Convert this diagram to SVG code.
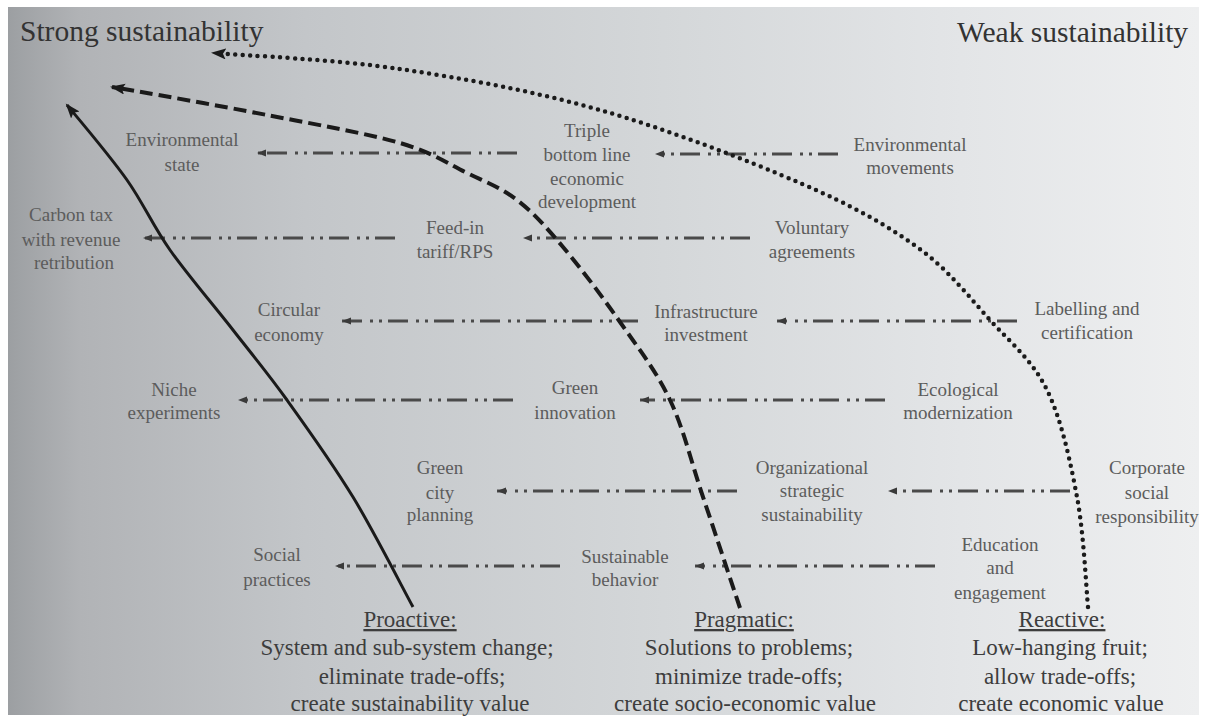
<svg xmlns="http://www.w3.org/2000/svg" width="1207" height="724" viewBox="0 0 1207 724">
<defs>
<linearGradient id="bg" x1="0" y1="0" x2="1" y2="0">
<stop offset="0" stop-color="#9c9fa2"/>
<stop offset="0.06" stop-color="#b1b3b6"/>
<stop offset="0.25" stop-color="#c3c6c9"/>
<stop offset="0.55" stop-color="#d4d7d9"/>
<stop offset="0.8" stop-color="#e3e5e7"/>
<stop offset="1" stop-color="#eeeff0"/>
</linearGradient>
<marker id="bigHead" markerUnits="userSpaceOnUse" markerWidth="16" markerHeight="12" refX="13" refY="5.5" orient="auto">
<path d="M0,0 L15,5.5 L0,11 L3,5.5 z" fill="#1a1a1a"/>
</marker>
<marker id="smallHead" markerUnits="userSpaceOnUse" markerWidth="10" markerHeight="8" refX="9" refY="3.5" orient="auto">
<path d="M0,0 L9,3.5 L0,7 z" fill="#3a3a3a"/>
</marker>
</defs>
<style>
text{font-family:"Liberation Serif","DejaVu Serif",serif;text-anchor:middle}
.title{font-size:29.5px;fill:#333;text-anchor:start}
.node text{font-size:19px;fill:#5c5c5c}
.lbl text{font-size:23px;fill:#3d3d3d}
.u{text-decoration:underline}
.row{fill:none;stroke:#4a4a4a;stroke-width:3;stroke-dasharray:20 6 3 6 3 8;marker-end:url(#smallHead)}
.solid{fill:none;stroke:#1a1a1a;stroke-width:3;marker-end:url(#bigHead)}
.dashed{fill:none;stroke:#1a1a1a;stroke-width:4;stroke-dasharray:13 6;marker-end:url(#bigHead)}
.dotted{fill:none;stroke:#1a1a1a;stroke-width:4.5;stroke-linecap:round;stroke-dasharray:0 7.5;marker-end:url(#bigHead)}
</style>
<rect width="1207" height="724" fill="#ffffff"/>
<rect x="8" y="7" width="1191" height="708" fill="url(#bg)"/>

<g id="titles">
<text class="title" x="20" y="41">Strong sustainability</text>
<text class="title" x="957" y="42">Weak sustainability</text>
</g>

<g id="connectors">
<path class="row" d="M517,153 L257,153"/>
<path class="row" d="M838,154 L655,154"/>
<path class="row" d="M395,238 L143,238"/>
<path class="row" d="M750,238 L523,238"/>
<path class="row" d="M638,321 L342,321"/>
<path class="row" d="M1017,321 L777,321"/>
<path class="row" d="M513,400 L238,400"/>
<path class="row" d="M885,400 L640,400"/>
<path class="row" d="M737,491 L497,491"/>
<path class="row" d="M1070,491 L888,491"/>
<path class="row" d="M560,566 L335,566"/>
<path class="row" d="M935,566 L695,566"/>
<path id="proactive-curve" class="solid" d="M413,607 C403,588.7 374,531.5 353,497 C332,462.5 307,427.8 287,400 C267,372.2 252.5,355 233,330 C213.5,305 187.7,275 170,250 C152.3,225 143.7,203.7 127,180 C110.3,156.3 79.5,120 67,105"/>
<path id="pragmatic-curve" class="dashed" d="M740,608 C733.8,589.5 714.7,531.7 703,497 C691.3,462.3 683.8,429.2 670,400 C656.2,370.8 637.8,347.5 620,322 C602.2,296.5 580.2,267.3 563,247 C545.8,226.7 533,212.3 517,200 C501,187.7 486.5,182.5 467,173 C447.5,163.5 433.3,152.7 400,143 C366.7,133.3 314.5,124.3 267,115 C219.5,105.7 140.3,91.7 112,87"/>
<path id="reactive-curve" class="dotted" d="M1088,607 C1086.2,588.7 1083.8,533.2 1077,497 C1070.2,460.8 1061.5,419.5 1047,390 C1032.5,360.5 1011.7,343.8 990,320 C968.3,296.2 948.7,269.8 917,247 C885.3,224.2 852.8,205.8 800,183 C747.2,160.2 666.7,129 600,110 C533.3,91 463.7,78.5 400,69 C336.3,59.5 248.3,55.7 213,53"/>
</g>

<g id="environmental-state" class="node"><text x="182" y="146">Environmental</text><text x="182" y="171">state</text></g>
<g id="triple-bottom-line" class="node"><text x="587" y="137">Triple</text><text x="587" y="161">bottom line</text><text x="587" y="185">economic</text><text x="587" y="208">development</text></g>
<g id="environmental-movements" class="node"><text x="910" y="151">Environmental</text><text x="910" y="174">movements</text></g>
<g id="carbon-tax" class="node"><text x="71" y="221">Carbon tax</text><text x="71" y="246">with revenue</text><text x="74" y="269">retribution</text></g>
<g id="feed-in-tariff" class="node"><text x="455" y="234">Feed-in</text><text x="455" y="258">tariff/RPS</text></g>
<g id="voluntary-agreements" class="node"><text x="812" y="234">Voluntary</text><text x="812" y="258">agreements</text></g>
<g id="circular-economy" class="node"><text x="289" y="316">Circular</text><text x="289" y="341">economy</text></g>
<g id="infrastructure-investment" class="node"><text x="706" y="318">Infrastructure</text><text x="706" y="341">investment</text></g>
<g id="labelling-certification" class="node"><text x="1087" y="315">Labelling and</text><text x="1087" y="339">certification</text></g>
<g id="niche-experiments" class="node"><text x="174" y="396">Niche</text><text x="174" y="419">experiments</text></g>
<g id="green-innovation" class="node"><text x="575" y="394">Green</text><text x="575" y="419">innovation</text></g>
<g id="ecological-modernization" class="node"><text x="958" y="396">Ecological</text><text x="958" y="419">modernization</text></g>
<g id="green-city-planning" class="node"><text x="440" y="474">Green</text><text x="440" y="499">city</text><text x="440" y="521">planning</text></g>
<g id="organizational-sustainability" class="node"><text x="812" y="474">Organizational</text><text x="812" y="497">strategic</text><text x="812" y="521">sustainability</text></g>
<g id="corporate-social-responsibility" class="node"><text x="1147" y="474">Corporate</text><text x="1147" y="499">social</text><text x="1147" y="523">responsibility</text></g>
<g id="social-practices" class="node"><text x="277" y="561">Social</text><text x="277" y="586">practices</text></g>
<g id="sustainable-behavior" class="node"><text x="625" y="563">Sustainable</text><text x="625" y="586">behavior</text></g>
<g id="education-engagement" class="node"><text x="1000" y="551">Education</text><text x="1000" y="574">and</text><text x="1000" y="599">engagement</text></g>

<g id="proactive" class="lbl"><text class="u" x="410" y="627">Proactive:</text><text x="407" y="655">System and sub-system change;</text><text x="412" y="684">eliminate trade-offs;</text><text x="410" y="711">create sustainability value</text></g>
<g id="pragmatic" class="lbl"><text class="u" x="744" y="627">Pragmatic:</text><text x="749" y="655">Solutions to problems;</text><text x="749" y="684">minimize trade-offs;</text><text x="745" y="711">create socio-economic value</text></g>
<g id="reactive" class="lbl"><text class="u" x="1062" y="627">Reactive:</text><text x="1060" y="655">Low-hanging fruit;</text><text x="1060" y="684">allow trade-offs;</text><text x="1061" y="711">create economic value</text></g>
</svg>
